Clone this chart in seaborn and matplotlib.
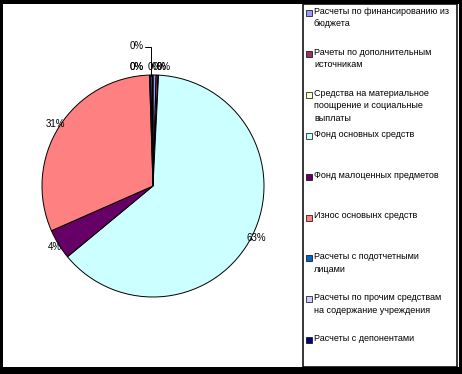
import textwrap
import matplotlib
matplotlib.use("Agg")
import matplotlib.pyplot as plt
import matplotlib.patches as mpatches
import seaborn as sns
import numpy as np

# categories and shares (percent of total)
categories = [
    "Расчеты по финансированию из бюджета",
    "Рачеты по дополнительным источникам",
    "Средства на материальное поощрение и социальные выплаты",
    "Фонд основных средств",
    "Фонд малоценных предметов",
    "Износ основынх средств",
    "Расчеты с подотчетными лицами",
    "Расчеты по прочим средствам на содержание учреждения",
    "Расчеты с депонентами",
]
shares = [0.45, 0.3, 0.05, 63.2, 4.4, 31.1, 0.2, 0.2, 0.1]
slice_colors = ["#9999FF", "#993366", "#FFFFCC", "#CCFFFF", "#660066",
                "#FF8080", "#0066CC", "#CCCCFF", "#000080"]

sns.set_theme(style="white")
plt.rcParams["font.family"] = ["Liberation Sans", "DejaVu Sans"]
palette = sns.color_palette(slice_colors)

W, H = 462, 374
fig = plt.figure(figsize=(W / 100, H / 100), dpi=100, facecolor="black")

# white area inside the black outer frame
fig.add_artist(mpatches.Rectangle((3 / W, 7 / H), 456 / W, 363 / H,
                                  transform=fig.transFigure, facecolor="white",
                                  edgecolor="none", zorder=-2))

# pie axes: centre (153,186) px, radius 111 px
R = 111
lim = 1.3
cx, cy = 153, H - 186
ax = fig.add_axes([(cx - lim * R) / W, (cy - lim * R) / H, 2 * lim * R / W, 2 * lim * R / H])
wedges, _, pct_texts = ax.pie(
    shares, colors=palette, startangle=90, counterclock=False,
    autopct=lambda p: f"{p:.0f}%", pctdistance=1.04,
    wedgeprops=dict(edgecolor="black", linewidth=0.7),
    textprops=dict(fontsize=7, color="black"),
)
ax.set_xlim(-lim, lim)
ax.set_ylim(-lim, lim)

# tiny slices near the top: stack the ones on the left like the original
total = sum(shares)
left_small = []
for i, w in enumerate(wedges):
    mid = np.deg2rad((w.theta1 + w.theta2) / 2)
    if shares[i] / total * 100 < 0.5:
        if np.cos(mid) < 0:
            left_small.append(i)
        else:
            pct_texts[i].set_position((np.cos(mid) * 1.07 + 0.02 * i, 1.07))
for n, i in enumerate(left_small):
    if n == len(left_small) - 1:
        pct_texts[i].set_position((-0.145, 1.26))
        ax.plot([-0.075, -0.02, -0.02], [1.255, 1.255, 0.995], color="black",
                linewidth=0.7, clip_on=False)
    else:
        pct_texts[i].set_position((-0.145, 1.07))

# legend box
fig.add_artist(mpatches.Rectangle((302.5 / W, 7 / H), 154 / W, 363 / H,
                                  transform=fig.transFigure, facecolor="white",
                                  edgecolor="black", linewidth=1.1, zorder=-1))

for i, name in enumerate(categories):
    yc = 13 + 40.9 * i
    fig.add_artist(mpatches.Rectangle((306 / W, (H - yc - 3) / H), 6 / W, 6 / H,
                                      transform=fig.transFigure, facecolor=palette[i],
                                      edgecolor="black", linewidth=0.5))
    fig.text(314 / W, (H - yc + 6) / H, textwrap.fill(name, 28), fontsize=6.5,
             va="top", ha="left", linespacing=1.5, color="black")

fig.savefig("out.png", dpi=100, facecolor="black")
